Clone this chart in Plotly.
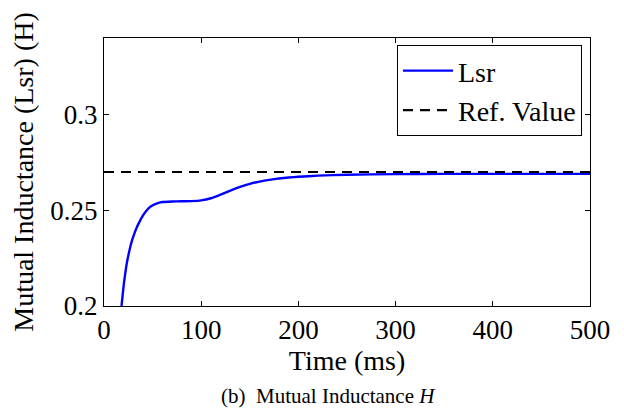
import plotly.graph_objects as go

# Data
time_ms = [18, 20.5, 23, 26.4, 29, 31.5, 34, 36.6, 40, 43.6, 48, 54, 60, 70, 80, 90,
           100, 110, 120, 130, 140, 150, 160, 170, 180, 190, 200, 220, 250, 300,
           350, 400, 450, 500]
lsr = [0.200, 0.212, 0.221, 0.2295, 0.2345, 0.2382, 0.2414, 0.2441, 0.2472, 0.2498,
       0.2520, 0.2535, 0.2543, 0.2546, 0.2547, 0.2548, 0.2552, 0.2563, 0.2582,
       0.2603, 0.2622, 0.2638, 0.2650, 0.2659, 0.2666, 0.2671, 0.2675, 0.2681,
       0.2686, 0.2689, 0.2690, 0.2690, 0.2690, 0.2690]
ref_time = [0, 500]
ref_value = [0.27, 0.27]

x_ticks = [0, 100, 200, 300, 400, 500]
y_ticks = [0.2, 0.25, 0.3]
y_tick_text = ["0.2", "0.25", "0.3"]

FONT = "Liberation Serif"

fig = go.Figure()
fig.add_trace(go.Scatter(x=time_ms, y=lsr, mode="lines", name="Lsr",
                         line=dict(color="#0000ff", width=2.4, shape="spline", smoothing=0.3)))
fig.add_trace(go.Scatter(x=ref_time, y=ref_value, mode="lines", name="Ref. Value",
                         line=dict(color="black", width=2.2, dash="10px,7px")))

axis_common = dict(showgrid=False, zeroline=False, showline=True, linecolor="black",
                   linewidth=1, mirror="ticks", ticks="inside", ticklen=5,
                   tickcolor="black", tickwidth=1,
                   tickfont=dict(family=FONT, size=27, color="black"))

fig.update_layout(
    width=624, height=412,
    margin=dict(l=104, r=34, t=38, b=106),
    paper_bgcolor="white", plot_bgcolor="white",
    font=dict(family=FONT, color="black"),
    xaxis=dict(range=[0, 500], tickvals=x_ticks,
               title=dict(text="Time (ms)", font=dict(family=FONT, size=28), standoff=2),
               **axis_common),
    yaxis=dict(range=[0.2, 0.34], tickvals=y_ticks, ticktext=y_tick_text,
               title=dict(text="Mutual Inductance (Lsr) (H)", font=dict(family=FONT, size=28), standoff=8),
               **axis_common),
    legend=dict(x=0.9835, xanchor="right", y=0.974, yanchor="top",
                bgcolor="white", bordercolor="black", borderwidth=1,
                font=dict(family=FONT, size=28, color="black"),
                tracegroupgap=0, itemwidth=50),
    showlegend=True,
)

fig.add_annotation(text="(b)  Mutual Inductance <i>H</i>", xref="paper", yref="paper",
                   x=0.461, y=-0.336, xanchor="center", yanchor="middle",
                   showarrow=False, font=dict(family=FONT, size=21, color="black"))

fig.write_html("out.html", config={"displayModeBar": False},
               post_script="document.body.style.margin='0';document.body.style.padding='0';")
